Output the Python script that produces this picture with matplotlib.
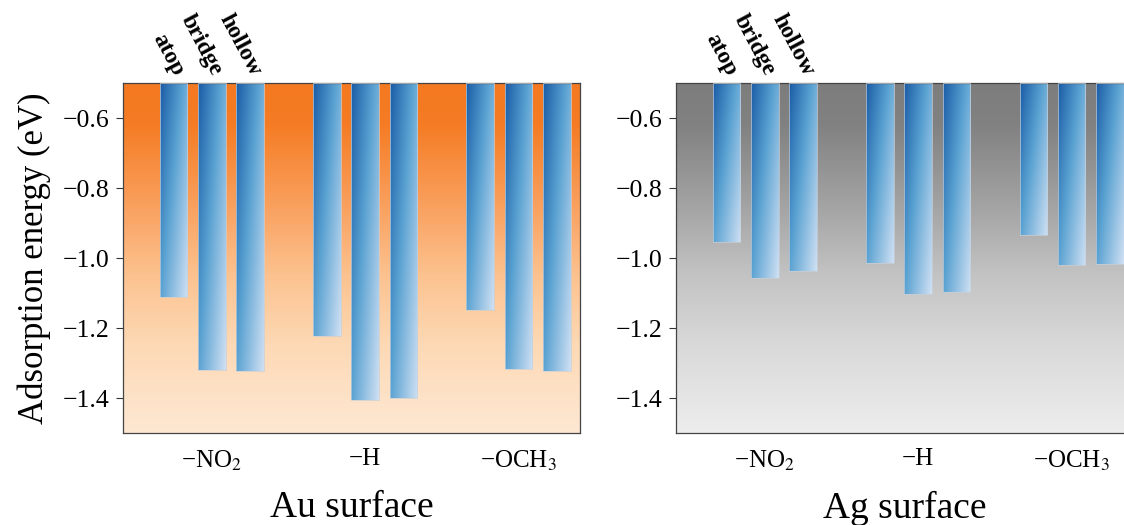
import matplotlib
matplotlib.use('Agg')
import matplotlib.pyplot as plt
import numpy as np
from matplotlib.colors import LinearSegmentedColormap

plt.rcParams['font.family'] = ['Liberation Serif', 'DejaVu Serif']
plt.rcParams['mathtext.fontset'] = 'stix'

groups = ['\u2212NO$_2$', '\u2212H', '\u2212OCH$_3$']
sites = ['atop', 'bridge', 'hollow']
au_energy = [[-1.11, -1.32, -1.322],
             [-1.224, -1.407, -1.40],
             [-1.149, -1.316, -1.322]]
ag_energy = [[-0.955, -1.058, -1.038],
             [-1.015, -1.104, -1.098],
             [-0.934, -1.019, -1.018]]
yticks = [-0.6, -0.8, -1.0, -1.2, -1.4]

top = -0.5
bottom = -1.5
offset = 0.25
width = 0.18

orange_bg = LinearSegmentedColormap.from_list('orange_bg', [
    (0.0, '#f47920'), (0.12, '#f57c24'), (0.35, '#f9a05e'),
    (0.55, '#fcc28f'), (0.75, '#fdd9b5'), (1.0, '#fee8d3')])
gray_bg = LinearSegmentedColormap.from_list('gray_bg', [
    (0.0, '#7d7d7d'), (0.12, '#818181'), (0.35, '#a3a3a3'),
    (0.55, '#c3c3c3'), (0.75, '#d9d9d9'), (1.0, '#ededed')])
bar_cmap = LinearSegmentedColormap.from_list('bar_blue', [
    (0.0, '#1a5ca6'), (0.45, '#5aa2d2'), (1.0, '#cfe0f3')])


def draw_panel(ax, energy, bg_cmap, title):
    ax.set_xlim(-0.58, 2.4)
    ax.set_ylim(bottom, top)

    # vertical background gradient over the whole axes
    grad = np.linspace(0, 1, 256).reshape(-1, 1)
    ax.imshow(grad, cmap=bg_cmap, aspect='auto', extent=[-0.58, 2.4, bottom, top],
              origin='upper', zorder=0, interpolation='bicubic')

    # diagonal blue gradient inside each bar
    u, v = np.meshgrid(np.linspace(0, 1, 64), np.linspace(0, 1, 128))
    bar_grad = 0.55 * u + 0.45 * v
    for i in range(len(groups)):
        xs = i + offset * np.arange(-1, 2)
        heights = np.array(energy[i]) - top
        bars = ax.bar(xs, heights, width=width, bottom=top, facecolor='none',
                      edgecolor='#c6d0da', linewidth=0.5, zorder=3)
        for b in bars:
            x0, y0 = b.get_x(), b.get_y()
            w, h = b.get_width(), b.get_height()
            im = ax.imshow(bar_grad, cmap=bar_cmap, vmin=0, vmax=1, aspect='auto',
                           extent=[x0, x0 + w, y0 + h, y0], origin='upper',
                           zorder=2, interpolation='bilinear')
            im.set_clip_path(b)

    # site names over the first group
    for k, s in enumerate(sites):
        ax.text(offset * (k - 1) + 0.035, top + 0.025, s, rotation=-62,
                rotation_mode='anchor', ha='right', va='center',
                fontsize=17, fontweight='bold', clip_on=False)

    ax.set_xlim(-0.58, 2.4)
    ax.set_ylim(bottom, top)
    ax.set_xticks(range(len(groups)))
    ax.set_xticklabels(groups, fontsize=18)
    ax.tick_params(axis='x', length=0, pad=11)
    ax.set_yticks(yticks)
    ax.set_yticklabels(['\u2212%.1f' % abs(t) for t in yticks], fontsize=18.5)
    ax.tick_params(axis='y', length=5, width=0.8, color='#333333', pad=5)
    for sp in ax.spines.values():
        sp.set_color('#444444')
        sp.set_linewidth(0.9)
    ax.set_xlabel(title, fontsize=27, labelpad=13)


fig = plt.figure(figsize=(11.24, 5.25), dpi=100)
ax1 = fig.add_axes([0.1094, 0.1752, 0.4066, 0.6667])
ax2 = fig.add_axes([0.6014, 0.1752, 0.4066, 0.6667])

draw_panel(ax1, au_energy, orange_bg, 'Au surface')
draw_panel(ax2, ag_energy, gray_bg, 'Ag surface')
ax1.set_ylabel('Adsorption energy (eV)', fontsize=25, labelpad=8)

fig.savefig('out.png', dpi=100)
